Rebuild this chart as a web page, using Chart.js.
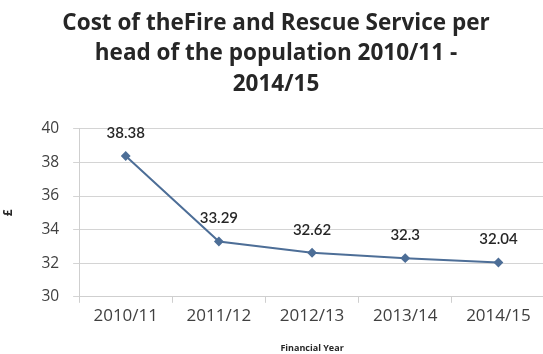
<!DOCTYPE html>
<html>
<head>
<meta charset="utf-8">
<script src="https://cdn.jsdelivr.net/npm/chart.js@4"></script>
<style>
  html, body { margin: 0; padding: 0; background: #fff; overflow: hidden; width: 543px; height: 354px; }
  #wrap { width: 551px; height: 354px; }
</style>
</head>
<body>
<div id="wrap"><canvas id="chart" width="551" height="354"></canvas></div>
<script>
const years = ['2010/11', '2011/12', '2012/13', '2013/14', '2014/15'];
const costPerHead = [38.38, 33.29, 32.62, 32.3, 32.04];
const yTicks = [30, 32, 34, 36, 38, 40];

const pointLabels = {
  id: 'pointLabels',
  afterDatasetsDraw(chart) {
    const c = chart.ctx;
    const meta = chart.getDatasetMeta(0);
    c.save();
    c.font = '600 15px Lato';
    c.fillStyle = '#262626';
    c.textAlign = 'center';
    c.textBaseline = 'middle';
    meta.data.forEach((pt, i) => {
      c.fillText(String(costPerHead[i]), pt.x, pt.y - 23);
    });
    c.restore();
  }
};

const ctx = document.getElementById('chart');
new Chart(ctx, {
  type: 'line',
  data: {
    labels: years,
    datasets: [{
      data: costPerHead,
      borderColor: '#4d6e97',
      backgroundColor: '#4d6e97',
      borderWidth: 2,
      pointStyle: 'rectRot',
      pointRadius: 3.5,
      tension: 0
    }]
  },
  options: {
    responsive: false,
    animation: false,
    layout: { padding: { left: 1, right: 0, top: 8, bottom: 0 } },
    plugins: {
      legend: { display: false },
      tooltip: { enabled: false },
      title: {
        display: true,
        text: ['Cost of theFire and Rescue Service per', 'head of the population 2010/11 -', '2014/15'],
        font: { family: 'Open Sans', size: 22.5, weight: 'bold', lineHeight: 1.36 },
        color: '#262626',
        padding: { top: 0, bottom: 29 }
      }
    },
    scales: {
      x: {
        offset: true,
        grid: { display: true, drawOnChartArea: false, offset: true, tickLength: 6, color: '#cfcfcf' },
        border: { color: '#cfcfcf' },
        ticks: { font: { family: 'Open Sans', size: 17 }, color: '#404040', padding: 3 },
        title: { display: true, text: 'Financial Year', font: { family: 'Open Sans', size: 9, weight: 'bold' }, color: '#262626', padding: { top: 14, bottom: 0 } }
      },
      y: {
        min: 30,
        max: 40,
        afterBuildTicks(axis) { axis.ticks = yTicks.map(v => ({ value: v })); },
        grid: { color: '#d4d4d4', tickLength: 6 },
        border: { color: '#cfcfcf' },
        ticks: { font: { family: 'Open Sans', size: 15.5 }, color: '#404040', padding: 14 },
        title: { display: true, text: '£', font: { family: 'Open Sans', size: 12, weight: 'bold' }, color: '#262626', padding: { top: 0, bottom: 12 } }
      }
    }
  },
  plugins: [pointLabels]
});
</script>
</body>
</html>
